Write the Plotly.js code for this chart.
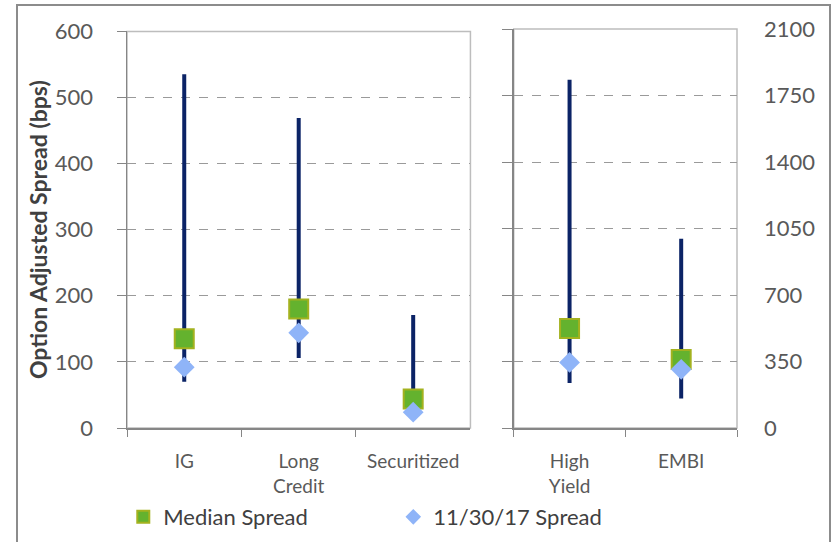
<!DOCTYPE html>
<html>
<head>
<meta charset="utf-8">
<script src="https://cdn.plot.ly/plotly-3.0.1.min.js"></script>
<style>
  html, body { margin: 0; padding: 0; background: #fff; }
  #wrap { position: relative; width: 833px; height: 542px; overflow: hidden; }
  #chart { width: 833px; height: 542px; }
  #frame { position: absolute; left: 16px; top: 4px; width: 815px; height: 560px;
           border: 2px solid #8c8c8c; pointer-events: none; box-sizing: border-box; }
</style>
</head>
<body>
<div id="wrap">
  <div id="chart"></div>
  <div id="frame"></div>
</div>
<script>
// Left panel (IG-type sectors, bps)
const leftCategories = ["IG", "Long<br>Credit", "Securitized"];
const leftMin    = [70, 106, 20];
const leftMax    = [535, 469, 171];
const leftMedian = [135, 180, 44];
const leftCurrent = [92, 144, 24];

// Right panel (High Yield / EMBI, bps)
const rightCategories = ["High<br>Yield", "EMBI"];
const rightMin    = [237, 155];
const rightMax    = [1833, 996];
const rightMedian = [524, 360];
const rightCurrent = [345, 309];

const leftTicks  = [0, 100, 200, 300, 400, 500, 600];
const rightTicks = [0, 350, 700, 1050, 1400, 1750, 2100];

const seriesNames = ["Median Spread", "11/30/17 Spread"];

const FONT = "Lato, 'Open Sans', sans-serif";
const TXT = "#595959";
const LINE = "#0b2366";
const GREEN = "#64b22e";
const GREEN_EDGE = "#a3b21f";
const BLUE = "#8fb4f8";

function rangeSegments(cats, mins, maxs) {
  const xs = [], ys = [];
  cats.forEach((c, i) => { xs.push(c, c, null); ys.push(mins[i], maxs[i], null); });
  return {x: xs, y: ys};
}

const lSeg = rangeSegments(leftCategories, leftMin, leftMax);
const rSeg = rangeSegments(rightCategories, rightMin, rightMax);

const traces = [
  {x: lSeg.x, y: lSeg.y, xaxis: "x", yaxis: "y", mode: "lines", type: "scatter",
   line: {color: LINE, width: 4}, showlegend: false, hoverinfo: "skip"},
  {x: rSeg.x, y: rSeg.y, xaxis: "x2", yaxis: "y2", mode: "lines", type: "scatter",
   line: {color: LINE, width: 4}, showlegend: false, hoverinfo: "skip"},
  {x: leftCategories, y: leftMedian, xaxis: "x", yaxis: "y", mode: "markers", type: "scatter",
   name: seriesNames[0], legendrank: 1,
   marker: {symbol: "square", size: 19, color: GREEN, line: {color: GREEN_EDGE, width: 2}}},
  {x: rightCategories, y: rightMedian, xaxis: "x2", yaxis: "y2", mode: "markers", type: "scatter",
   name: seriesNames[0], showlegend: false,
   marker: {symbol: "square", size: 19, color: GREEN, line: {color: GREEN_EDGE, width: 2}}},
  {x: leftCategories, y: leftCurrent, xaxis: "x", yaxis: "y", mode: "markers", type: "scatter",
   name: seriesNames[1], legendrank: 2,
   marker: {symbol: "diamond", size: 16, color: BLUE, line: {width: 0}}},
  {x: rightCategories, y: rightCurrent, xaxis: "x2", yaxis: "y2", mode: "markers", type: "scatter",
   name: seriesNames[1], showlegend: false,
   marker: {symbol: "diamond", size: 16, color: BLUE, line: {width: 0}}}
];

const gridCommon = {showgrid: true, gridcolor: "#9a9a9a", griddash: "dash", gridwidth: 1, zeroline: false};

const layout = {
  width: 833, height: 542,
  margin: {l: 127, r: 96, t: 29, b: 114},
  paper_bgcolor: "#fff", plot_bgcolor: "#fff",
  font: {family: FONT, color: TXT},
  showlegend: true,
  legend: {orientation: "h", xref: "container", yref: "container",
           x: 0.148, xanchor: "left", y: 0.046, yanchor: "middle",
           font: {size: 22, color: "#404040", family: FONT}, entrywidth: 225, entrywidthmode: "pixels",
           itemsizing: "constant",
           traceorder: "normal", bgcolor: "rgba(0,0,0,0)"},
  xaxis: {domain: [0, 0.563], type: "category", anchor: "y",
          range: [-0.5, 2.5], showline: true, linecolor: "#868686", linewidth: 1.5,
          ticks: "outside", tickson: "boundaries", ticklen: 7, tickcolor: "#868686",
          tickfont: {size: 19, color: TXT}, ticklabelstandoff: 16, showgrid: false, fixedrange: true},
  yaxis: Object.assign({domain: [0, 0.994], anchor: "x", range: [0, 600], tickvals: leftTicks,
          showline: true, linecolor: "#868686", linewidth: 1.5, ticks: "outside", ticklen: 9,
          tickcolor: "#868686", tickfont: {size: 22, color: TXT}, ticklabelstandoff: 19,
          title: {text: "Option Adjusted Spread (bps)", font: {size: 23, color: "#404040", family: FONT, weight: "bold"}, standoff: 1},
          fixedrange: true}, gridCommon),
  xaxis2: {domain: [0.634, 1], type: "category", anchor: "y2",
          range: [-0.5, 1.5], showline: true, linecolor: "#868686", linewidth: 1.5,
          ticks: "outside", tickson: "boundaries", ticklen: 7, tickcolor: "#868686",
          tickfont: {size: 19, color: TXT}, ticklabelstandoff: 16, showgrid: false, fixedrange: true},
  yaxis2: Object.assign({domain: [0, 1], anchor: "x2", range: [0, 2100], tickvals: rightTicks,
          showline: true, linecolor: "#868686", linewidth: 1.5, ticks: "outside", ticklen: 10,
          tickcolor: "#868686", showticklabels: false, fixedrange: true}, gridCommon),
  yaxis3: {overlaying: "y2", anchor: "x2", side: "right", range: [0, 2100], tickvals: rightTicks,
          showline: false, showgrid: false, zeroline: false, ticks: "",
          tickfont: {size: 22, color: TXT}, ticklabelstandoff: 26, fixedrange: true},
  shapes: [
    {type: "rect", xref: "x domain", yref: "y domain", x0: 0, x1: 1, y0: 0, y1: 1,
     line: {color: "#bdbdbd", width: 1.5}, layer: "below"},
    {type: "rect", xref: "x2 domain", yref: "y2 domain", x0: 0, x1: 1, y0: 0, y1: 1,
     line: {color: "#bdbdbd", width: 1.5}, layer: "below"}
  ]
};

// invisible trace so the right-hand label axis is drawn
traces.push({x: rightCategories, y: rightMedian, xaxis: "x2", yaxis: "y3", mode: "markers",
  type: "scatter", marker: {opacity: 0}, showlegend: false, hoverinfo: "skip"});

Plotly.newPlot("chart", traces, layout, {displayModeBar: false, staticPlot: true});
</script>
</body>
</html>
